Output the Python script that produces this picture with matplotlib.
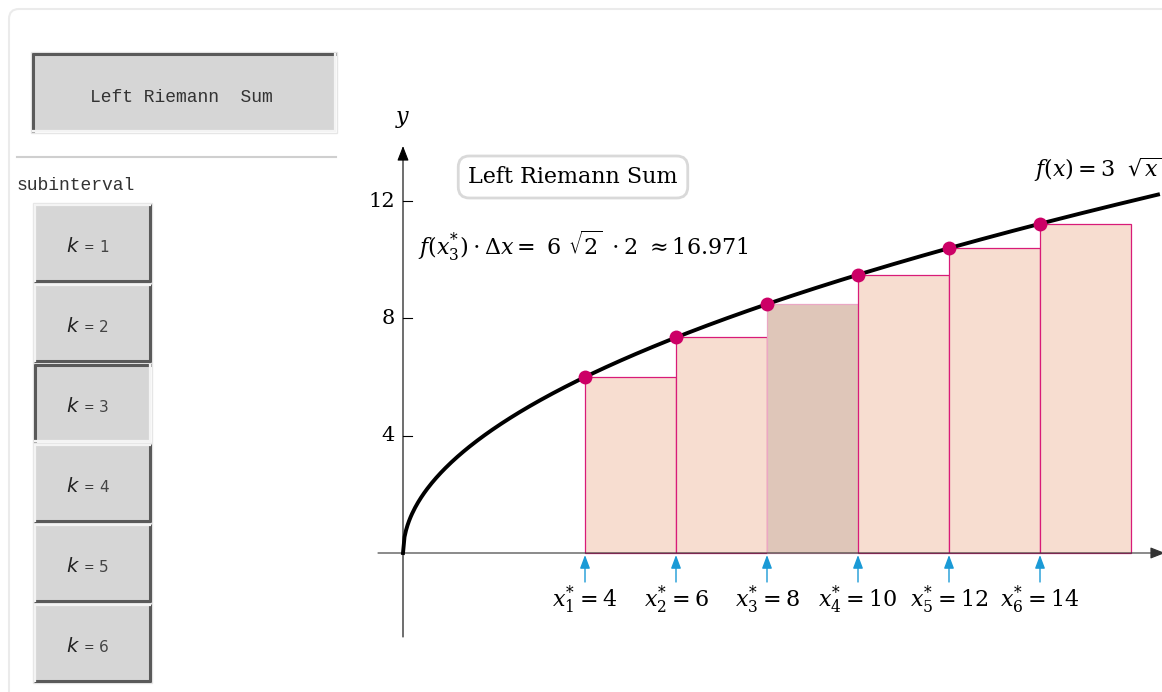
import numpy as np
import matplotlib
matplotlib.use("Agg")
import matplotlib.pyplot as plt
from matplotlib.patches import Rectangle, FancyBboxPatch

# left-endpoint Riemann sum of f(x) = 3 sqrt(x) on [4, 16], 6 subintervals
x_star = np.array([4, 6, 8, 10, 12, 14])
dx = 2
k_selected = 3
k_values = [1, 2, 3, 4, 5, 6]
y_ticks = [4, 8, 12]


def f(x):
    return 3 * np.sqrt(x)


plt.rcParams["font.family"] = ["DejaVu Serif"]
plt.rcParams["mathtext.fontset"] = "dejavuserif"

W, H = 1162, 692
fig = plt.figure(figsize=(W / 100, H / 100), dpi=100)
fig.patch.set_facecolor("white")

# ---- control panel, drawn in pixel coordinates ----
ui = fig.add_axes([0, 0, 1, 1], zorder=0)
ui.set_xlim(0, W)
ui.set_ylim(H, 0)
ui.axis("off")

ui.add_patch(FancyBboxPatch((9, 9), W + 40, H + 40, boxstyle="round,pad=0,rounding_size=10",
                            fc="white", ec="#ebebeb", lw=1.5))


def button(x0, y0, x1, y1, pressed):
    ui.add_patch(Rectangle((x0 - 1, y0 - 1), x1 - x0 + 2, y1 - y0 + 2, fc="none", ec="#e6e6e6", lw=1))
    ui.add_patch(Rectangle((x0, y0), x1 - x0, y1 - y0, fc="#d6d6d6", ec="none"))
    dark = dict(color="#5a5a5a", lw=2.2, solid_capstyle="butt")
    light = dict(color="#f4f4f4", lw=1.6, solid_capstyle="butt")
    if pressed:
        ui.plot([x0 + 1, x0 + 1], [y0, y1], **dark)
        ui.plot([x0, x1], [y0 + 1, y0 + 1], **dark)
        ui.plot([x1 - 1, x1 - 1], [y0, y1], **light)
        ui.plot([x0, x1], [y1 - 1, y1 - 1], **light)
    else:
        ui.plot([x1 - 1, x1 - 1], [y0, y1], **dark)
        ui.plot([x0, x1], [y1 - 1, y1 - 1], **dark)
        ui.plot([x0 + 1, x0 + 1], [y0, y1], **light)
        ui.plot([x0, x1], [y0 + 1, y0 + 1], **light)


button(32, 53, 336, 132, pressed=True)
ui.text(181, 98, "Left Riemann  Sum", family="Liberation Mono", fontsize=13,
        color="#333333", ha="center", va="center")
ui.plot([17, 336], [157, 157], color="#cfcfcf", lw=1.5)
ui.text(17, 185, "subinterval", family="Liberation Mono", fontsize=13,
        color="#333333", ha="left", va="center")

for i, k in enumerate(k_values):
    top = 204 + i * 80
    button(34, top, 151, top + 78, pressed=(k == k_selected))
    cy = top + 43
    ui.text(72, cy - 1, "k", family="DejaVu Sans", style="italic", fontsize=14,
            color="#222222", ha="center", va="center")
    ui.text(89, cy + 1, "=", family="DejaVu Sans", fontsize=9,
            color="#333333", ha="center", va="center")
    ui.text(104, cy, str(k), family="DejaVu Sans", fontsize=11,
            color="#444444", ha="center", va="center")

# ---- graph ----
px_x, px_y = 45.5, 29.33          # pixels per unit
ox, oy = 403, 553                 # pixel position of the origin
left, right, top, bottom = 360, W, 100, 660
ax = fig.add_axes([left / W, (H - bottom) / H, (right - left) / W, (bottom - top) / H], zorder=1)
ax.set_xlim((left - ox) / px_x, (right - ox) / px_x)
ax.set_ylim((oy - bottom) / px_y, (oy - top) / px_y)
ax.axis("off")
ax.patch.set_visible(False)

heights = f(x_star)
for i, (xs, h) in enumerate(zip(x_star, heights)):
    sel = (i + 1) == k_selected
    ax.bar(xs, h, width=dx, align="edge",
           color="#dfc6b9" if sel else "#f7ddd0",
           edgecolor="#eaa7c4" if sel else "#d81b78",
           lw=0.9, zorder=2)

xx = np.linspace(0, (1158 - ox) / px_x, 500)
ax.plot(xx, f(xx), color="black", lw=2.8, zorder=3)
ax.scatter(x_star, heights, s=100, color="#cc0066", zorder=4, lw=0)

# axes with arrow heads
ax.annotate("", xy=((W + 3 - ox) / px_x, 0), xytext=(-0.55, 0), annotation_clip=False,
            arrowprops=dict(arrowstyle="-|>,head_length=0.9,head_width=0.35",
                            color="#333333", lw=0.8, shrinkA=0, shrinkB=0), zorder=2.5)
ax.annotate("", xy=(0, (oy - 146) / px_y), xytext=(0, (oy - 637) / px_y), annotation_clip=False,
            arrowprops=dict(arrowstyle="-|>,head_length=0.9,head_width=0.35",
                            color="black", lw=0.8, shrinkA=0, shrinkB=0), zorder=5)
ax.text(0, (oy - 119) / px_y, "$y$", fontsize=16, ha="center", va="center")

for t in y_ticks:
    ax.plot([0, 9 / px_x], [t, t], color="black", lw=0.8)
    ax.text(-8 / px_x, t, str(t), fontsize=15, ha="right", va="center")

# sample point markers
for i, xs in enumerate(x_star):
    ax.annotate("", xy=(xs, -2 / px_y), xytext=(xs, -29 / px_y),
                arrowprops=dict(arrowstyle="-|>,head_length=0.8,head_width=0.3",
                                color="#1a9ad6", lw=1.0, shrinkA=0, shrinkB=0), zorder=5)
    ax.text(xs, -47 / px_y, "$x_{%d}^{*} = %d$" % (i + 1, xs), fontsize=16,
            ha="center", va="center")

# labels
sel_x = x_star[k_selected - 1]
area = f(sel_x) * dx
ax.text((418 - ox) / px_x, (oy - 246) / px_y,
        r"$f(x_{%d}^{*}) \cdot \Delta x = \ 6\ \sqrt{2}\ \cdot 2\ \approx %.3f$" % (k_selected, area),
        fontsize=16, ha="left", va="center")
ax.text((1034 - ox) / px_x, (oy - 170) / px_y, r"$f(x) = 3\;\ \sqrt{x}$", fontsize=16,
        ha="left", va="center", clip_on=False)
ax.text((573 - ox) / px_x, (oy - 177) / px_y, "Left Riemann Sum", fontsize=16,
        ha="center", va="center",
        bbox=dict(boxstyle="round,pad=0.45,rounding_size=0.5", fc="white", ec="#d9d9d9", lw=2))

fig.savefig("out.png", dpi=100)
